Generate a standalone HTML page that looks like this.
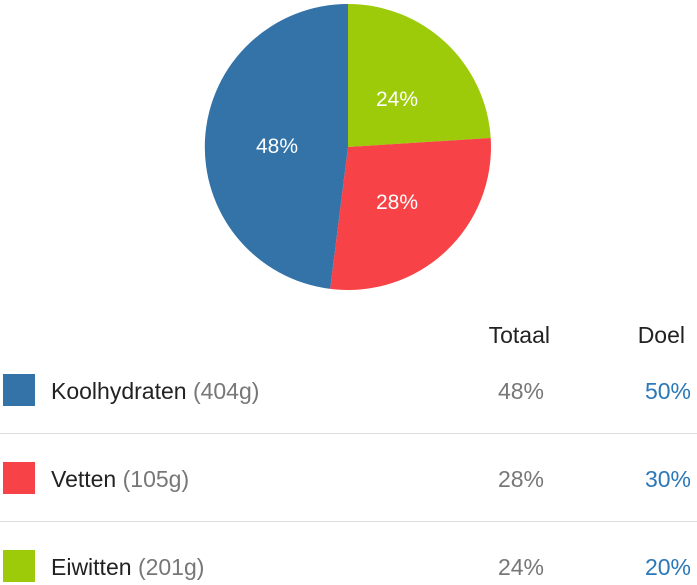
<!DOCTYPE html>
<html><head><meta charset="utf-8"><style>
body{margin:0;width:697px;height:585px;background:#fff;font-family:"Liberation Sans",sans-serif;position:relative;overflow:hidden}
.t{position:absolute;font-size:23px;white-space:nowrap}
.r{position:absolute;font-size:23px;white-space:nowrap;text-align:right}
.sq{position:absolute;left:3px;width:32px;height:32px}
.hr{position:absolute;left:0;width:697px;height:1px;background:#dcdcdc}
</style></head><body>
<svg width="697" height="300" style="position:absolute;left:0;top:0">
<path d="M348,147 L348,4 A143,143 0 0 1 490.7,138 Z" fill="#9dcb0a"/>
<path d="M348,147 L490.7,138 A143,143 0 0 1 330.1,288.9 Z" fill="#f74347"/>
<path d="M348,147 L330.1,288.9 A143,143 0 0 1 348,4 Z" fill="#3473a8"/>
<g fill="#fff" font-family="Liberation Sans,sans-serif" font-size="21" text-anchor="middle">
<text x="397" y="106">24%</text>
<text x="397" y="209">28%</text>
<text x="277" y="153">48%</text>
</g>
</svg>
<div class="r" style="right:147px;top:322px;color:#222">Totaal</div>
<div class="r" style="right:12px;top:322px;color:#222">Doel</div>
<div class="sq" style="top:374px;background:#3473a8"></div>
<div class="t" style="left:51px;top:378px;color:#222">Koolhydraten <span style="color:#777">(404g)</span></div>
<div class="r" style="right:153px;top:378px;color:#777">48%</div>
<div class="r" style="right:6px;top:378px;color:#2a78b8">50%</div>
<div class="hr" style="top:433px"></div>
<div class="sq" style="top:462px;background:#f74347"></div>
<div class="t" style="left:51px;top:466px;color:#222">Vetten <span style="color:#777">(105g)</span></div>
<div class="r" style="right:153px;top:466px;color:#777">28%</div>
<div class="r" style="right:6px;top:466px;color:#2a78b8">30%</div>
<div class="hr" style="top:521px"></div>
<div class="sq" style="top:550px;background:#9dcb0a"></div>
<div class="t" style="left:51px;top:554px;color:#222">Eiwitten <span style="color:#777">(201g)</span></div>
<div class="r" style="right:153px;top:554px;color:#777">24%</div>
<div class="r" style="right:6px;top:554px;color:#2a78b8">20%</div>
</body></html>
